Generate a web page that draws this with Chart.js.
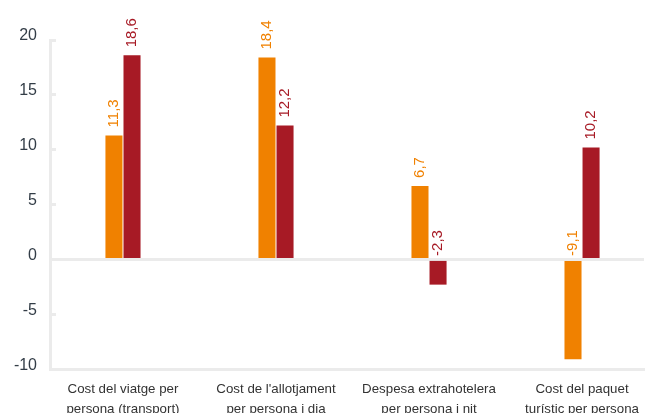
<!DOCTYPE html>
<html>
<head>
<meta charset="utf-8">
<script src="https://cdn.jsdelivr.net/npm/chart.js@4/dist/chart.umd.min.js"></script>
<style>
  html, body { margin: 0; padding: 0; background: #ffffff; overflow: hidden; }
  #wrap { position: relative; width: 651px; height: 429px; }
</style>
</head>
<body>
<div id="wrap"><canvas id="c"></canvas></div>
<script>
// ---- data ----
const categories = [
  ["Cost del viatge per", "persona (transport)"],
  ["Cost de l'allotjament", "per persona i dia"],
  ["Despesa extrahotelera", "per persona i nit"],
  ["Cost del paquet", "turístic per persona"]
];
const seriesA = [11.3, 18.4, 6.7, -9.1];   // orange
const seriesB = [18.6, 12.2, -2.3, 10.2];  // dark red
const yTicks = [-10, -5, 0, 5, 10, 15, 20];

// ---- styles ----
const ORANGE = '#f08100';
const RED = '#a71a25';
const LINE = '#ebebeb';
const FONT = "'Liberation Sans', Arial, Helvetica, sans-serif";

const toPoints = arr => arr.map((v, i) => ({ x: i, y: v }));

const valueLabels = {
  id: 'valueLabels',
  afterDatasetsDraw(chart) {
    const ctx = chart.ctx;
    chart.data.datasets.forEach((ds, di) => {
      const meta = chart.getDatasetMeta(di);
      meta.data.forEach((bar, i) => {
        const v = ds.data[i].y;
        const p = bar.getProps(['x', 'y', 'base'], true);
        const start = v >= 0 ? p.y - 8 : p.base - 5;
        ctx.save();
        ctx.translate(p.x, start);
        ctx.rotate(-Math.PI / 2);
        ctx.font = '15px ' + FONT;
        ctx.fillStyle = ds.backgroundColor;
        ctx.textAlign = 'left';
        ctx.textBaseline = 'middle';
        ctx.fillText(v.toFixed(1).replace('.', ','), 0, 0);
        ctx.restore();
      });
    });
  }
};

new Chart(document.getElementById('c'), {
  type: 'bar',
  data: {
    datasets: [
      { data: toPoints(seriesA), backgroundColor: ORANGE, categoryPercentage: 0.236, barPercentage: 0.944 },
      { data: toPoints(seriesB), backgroundColor: RED, categoryPercentage: 0.236, barPercentage: 0.944 }
    ]
  },
  options: {
    responsive: true,
    maintainAspectRatio: false,
    animation: false,
    layout: { padding: { top: 40, right: 7, left: 0, bottom: 0 } },
    plugins: { legend: { display: false }, tooltip: { enabled: false } },
    scales: {
      x: {
        type: 'linear',
        offset: false,
        min: -0.477,
        max: 3.405,
        grid: { display: false, drawTicks: false, offset: false },
        border: { display: true, color: LINE, width: 3 },
        afterBuildTicks: s => { s.ticks = categories.map((c, i) => ({ value: i })); },
        ticks: {
          padding: 10,
          color: '#333333',
          font: { family: FONT, size: 13.3, lineHeight: 1.5 },
          maxRotation: 0,
          autoSkip: false,
          callback: v => categories[v] || ''
        }
      },
      y: {
        min: -10,
        max: 20,
        afterFit: s => { s.width = 50; },
        afterBuildTicks: s => { s.ticks = yTicks.map(v => ({ value: v })); },
        grid: {
          drawTicks: true,
          tickLength: -6,
          tickWidth: 3,
          tickColor: LINE,
          lineWidth: 3,
          color: c => (c.tick && c.tick.value === 0) ? LINE : 'rgba(0,0,0,0)'
        },
        border: { display: true, color: LINE, width: 3 },
        ticks: {
          padding: 19,
          labelOffset: -4,
          color: '#333d47',
          font: { family: FONT, size: 16 }
        }
      }
    }
  },
  plugins: [valueLabels]
});
</script>
</body>
</html>
